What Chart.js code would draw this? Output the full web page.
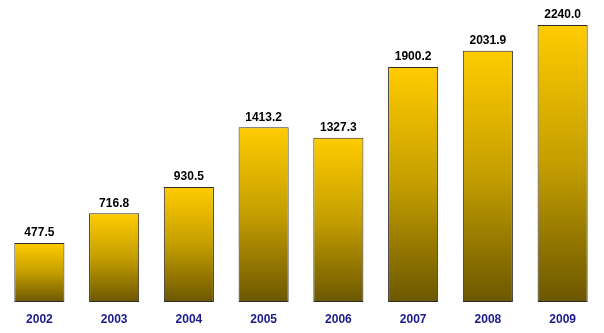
<!DOCTYPE html>
<html>
<head>
<meta charset="utf-8">
<script src="https://cdn.jsdelivr.net/npm/chart.js@4"></script>
<style>
html,body{margin:0;padding:0;background:#fff;}
#wrap{width:604px;height:333px;}
</style>
</head>
<body>
<div id="wrap"><canvas id="c" width="604" height="333"></canvas></div>
<script>
const categories = ["2002","2003","2004","2005","2006","2007","2008","2009"];
const values = [477.5, 716.8, 930.5, 1413.2, 1327.3, 1900.2, 2031.9, 2240.0];
const valueLabels = ["477.5","716.8","930.5","1413.2","1327.3","1900.2","2031.9","2240.0"];

const valueLabelPlugin = {
  id: 'valueLabels',
  afterDatasetsDraw(chart) {
    const ctx = chart.ctx;
    const meta = chart.getDatasetMeta(0);
    ctx.save();
    ctx.font = 'bold 12px "Liberation Sans", Arial, sans-serif';
    ctx.fillStyle = '#000';
    ctx.textAlign = 'center';
    ctx.textBaseline = 'bottom';
    meta.data.forEach((bar, i) => {
      ctx.fillText(valueLabels[i], bar.x, bar.y - 4);
    });
    ctx.restore();
  }
};

function barGradient(context) {
  const chart = context.chart;
  const area = chart.chartArea;
  if (!area || context.type !== 'data') return '#FFCC00';
  const y = chart.scales.y;
  const top = y.getPixelForValue(context.parsed ? context.parsed.y : values[context.dataIndex]);
  const base = y.getPixelForValue(0);
  const g = chart.ctx.createLinearGradient(0, top, 0, base);
  g.addColorStop(0, '#FFCC00');
  g.addColorStop(0.5, '#C49E00');
  g.addColorStop(1, '#6C5700');
  return g;
}

new Chart(document.getElementById('c'), {
  type: 'bar',
  data: {
    labels: categories,
    datasets: [{
      data: values,
      backgroundColor: barGradient,
      borderColor: '#2a2a2a',
      borderWidth: 1,
      borderSkipped: false,
      barPercentage: 0.67,
      categoryPercentage: 1.0
    }]
  },
  options: {
    responsive: false,
    animation: false,
    layout: { padding: { top: 25, left: 2, right: 4, bottom: 0 } },
    plugins: { legend: { display: false }, tooltip: { enabled: false } },
    scales: {
      x: {
        grid: { display: false, drawTicks: false },
        border: { display: false },
        afterFit(scale) { scale.height = 31; },
        ticks: {
          color: '#1A1A8C',
          font: { family: '"Liberation Sans", Arial, sans-serif', size: 12, weight: 'bold' },
          padding: 10,
          maxRotation: 0
        }
      },
      y: {
        display: false,
        min: 0,
        max: 2240
      }
    }
  },
  plugins: [valueLabelPlugin]
});
</script>
</body>
</html>
